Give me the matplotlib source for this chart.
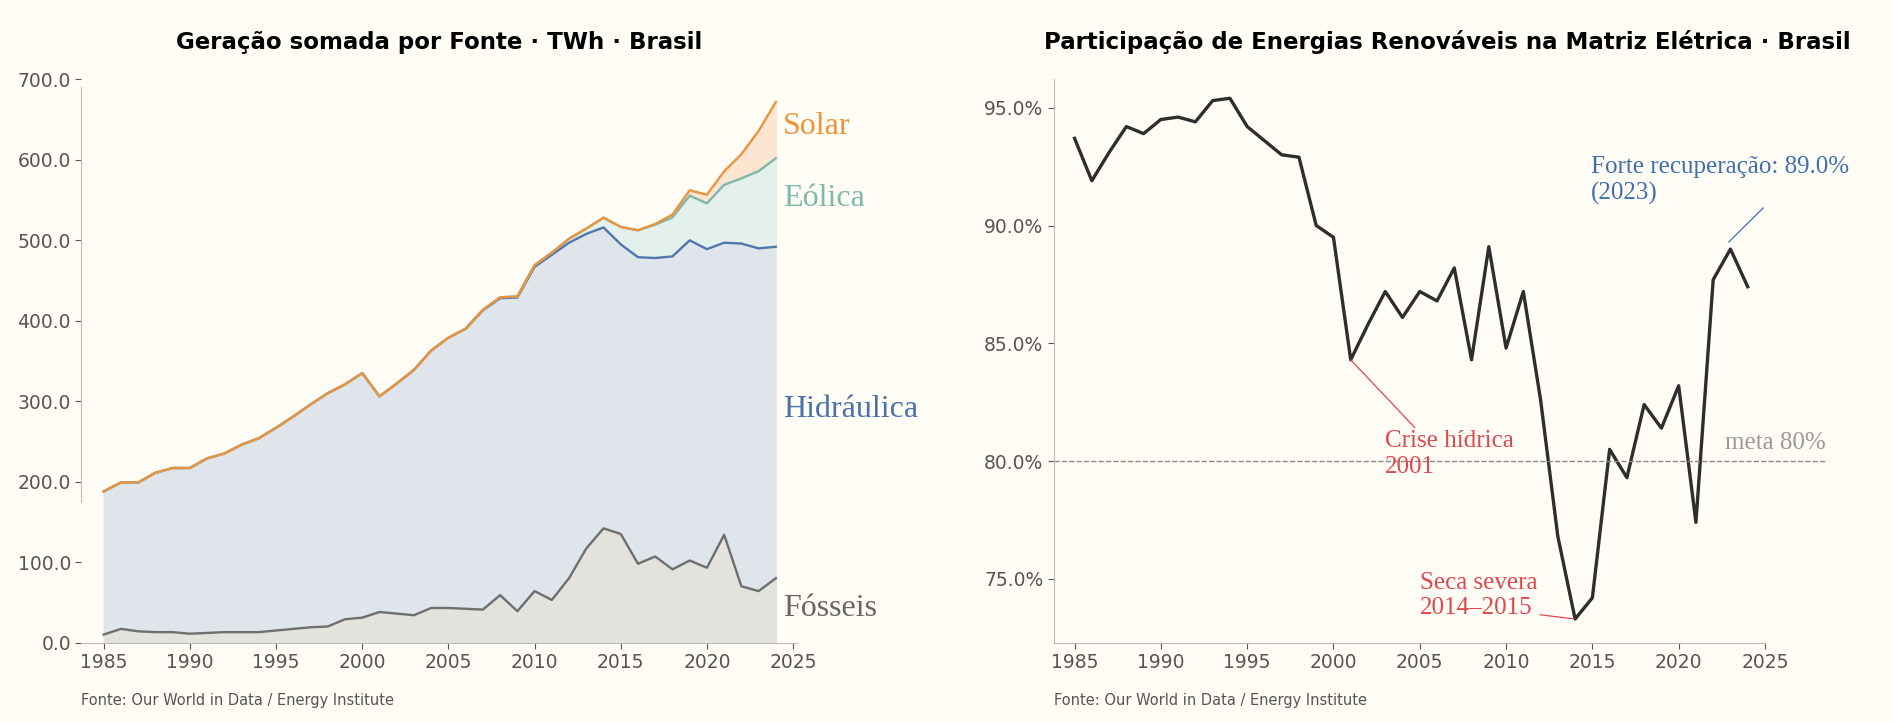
import matplotlib.pyplot as plt
import numpy as np

years = np.arange(1985, 2025)
fossil = [10, 17, 14, 13, 13, 11, 12, 13, 13, 13, 15, 17, 19, 20, 29, 31, 38, 36, 34, 43,
          43, 42, 41, 59, 39, 64, 53, 80, 117, 142, 135, 98, 107, 91, 102, 93, 134, 70, 64, 80]
hydro = [178, 182, 185, 198, 204, 206, 217, 222, 233, 241, 252, 264, 277, 290, 292, 304, 268, 286, 305, 320,
         336, 348, 372, 369, 390, 403, 429, 417, 391, 374, 360, 381, 371, 389, 398, 396, 363, 426, 426, 412]
wind = [0] * 21 + [0.2, 0.7, 1.2, 1.2, 2.2, 2.7, 5.0, 6.6, 12.2, 21.6, 33.5, 41.5, 48.5, 55.5, 57.0, 72.0, 81.0, 96.0, 110.0]
solar = [0] * 31 + [0.1, 0.8, 3.5, 6.7, 10.7, 16.8, 30.0, 50.0, 70.0]
renew_pct = [93.7, 91.9, 93.1, 94.2, 93.9, 94.5, 94.6, 94.4, 95.3, 95.4, 94.2, 93.6, 93.0, 92.9, 90.0, 89.5,
             84.3, 85.8, 87.2, 86.1, 87.2, 86.8, 88.2, 84.3, 89.1, 84.8, 87.2, 82.6, 76.8, 73.3, 74.2, 80.5,
             79.3, 82.4, 81.4, 83.2, 77.4, 87.7, 89.0, 87.4]

bg = '#FFFDF6'
serif = 'Liberation Serif'
plt.rcParams['font.family'] = 'DejaVu Sans'

fig = plt.figure(figsize=(18.92, 7.22), dpi=100)
fig.patch.set_facecolor(bg)
ax1 = fig.add_axes([0.043, 0.11, 0.378, 0.78])
ax2 = fig.add_axes([0.557, 0.11, 0.416, 0.78])
for ax in (ax1, ax2):
    ax.set_facecolor(bg)
    for s in ('top', 'right'):
        ax.spines[s].set_visible(False)
    for s in ('left', 'bottom'):
        ax.spines[s].set_color('#BBBBBB')
    ax.tick_params(colors='#555555', labelsize=13.5, length=4)

# left: stacked generation
f = np.array(fossil, float)
h = f + np.array(hydro)
w = h + np.array(wind)
s = w + np.array(solar)
ax1.fill_between(years, 0, f, color='#E3E2DC')
ax1.fill_between(years, f, h, color='#DFE5EA')
ax1.fill_between(years, h, w, color='#E3F0EB')
ax1.fill_between(years, w, s, color='#FCE5D1')
ax1.plot(years, f, color='#6E6E6E', lw=1.7)
ax1.plot(years, h, color='#4F77AE', lw=1.7)
ax1.plot(years, w, color='#7DB8AA', lw=1.7)
ax1.plot(years, s, color='#EB9440', lw=1.7)
lab = dict(fontsize=23, family=serif, va='center', ha='left')
ax1.text(2024.4, 42, 'Fósseis', color='#666666', **lab)
ax1.text(2024.4, 290, 'Hidráulica', color='#4A72A8', **lab)
ax1.text(2024.4, 552, 'Eólica', color='#7DB8AA', **lab)
ax1.text(2024.4, 642, 'Solar', color='#F0923A', **lab)
ax1.set_xlim(1983.7, 2025.2)
ax1.set_ylim(0, 700)
ax1.set_xticks(range(1985, 2026, 5))
ax1.set_yticks(range(0, 701, 100))
ax1.yaxis.set_major_formatter(plt.FuncFormatter(lambda v, p: f'{v:.1f}'))
ax1.spines['left'].set_bounds(175, 690)
ax1.set_title('Geração somada por Fonte · TWh · Brasil', fontsize=16.5, fontweight='bold', pad=22)
ax1.text(0.0, -0.11, 'Fonte: Our World in Data / Energy Institute', transform=ax1.transAxes,
         fontsize=10.5, color='#555555')

# right: renewables share
ax2.plot(years, renew_pct, color='#2E2E2E', lw=2.4)
ax2.axhline(80, color='#888888', lw=1, ls='--', xmin=0, xmax=0.98)
ax2.text(2028.5, 80.3, 'meta 80%', color='#999999', fontsize=18, family=serif, ha='right', va='bottom')
ax2.annotate('Crise hídrica\n2001', xy=(2001, 84.3), xytext=(2003, 80.3), color='#E0474C',
             fontsize=18, family=serif, va='center',
             arrowprops=dict(arrowstyle='-', color='#E0474C', lw=0.9, shrinkA=0, shrinkB=0,
                             relpos=(0.25, 1.0)))
ax2.annotate('Seca severa\n2014–2015', xy=(2014, 73.3), xytext=(2005, 74.3), color='#E0474C',
             fontsize=18, family=serif, va='center',
             arrowprops=dict(arrowstyle='-', color='#E0474C', lw=0.9, shrinkA=0, shrinkB=2,
                             relpos=(1.0, 0.1)))
ax2.annotate('Forte recuperação: 89.0%\n(2023)', xy=(2022.9, 89.3), xytext=(2014.9, 91.9), color='#3F6FAD',
             fontsize=18, family=serif, va='center',
             arrowprops=dict(arrowstyle='-', color='#3F6FAD', lw=0.9, shrinkA=0, shrinkB=0,
                             relpos=(0.68, 0.0)))
ax2.set_xlim(1983.8, 2029.4)
ax2.set_ylim(72.3, 96.2)
ax2.set_xticks(range(1985, 2026, 5))
ax2.set_yticks([75, 80, 85, 90, 95])
ax2.yaxis.set_major_formatter(plt.FuncFormatter(lambda v, p: f'{v:.1f}%'))
ax2.spines['bottom'].set_bounds(1983.8, 2025)
ax2.set_title('Participação de Energias Renováveis na Matriz Elétrica · Brasil', fontsize=16.5,
              fontweight='bold', pad=22)
ax2.text(0.0, -0.11, 'Fonte: Our World in Data / Energy Institute', transform=ax2.transAxes,
         fontsize=10.5, color='#555555')

fig.savefig('out.png', facecolor=bg)
